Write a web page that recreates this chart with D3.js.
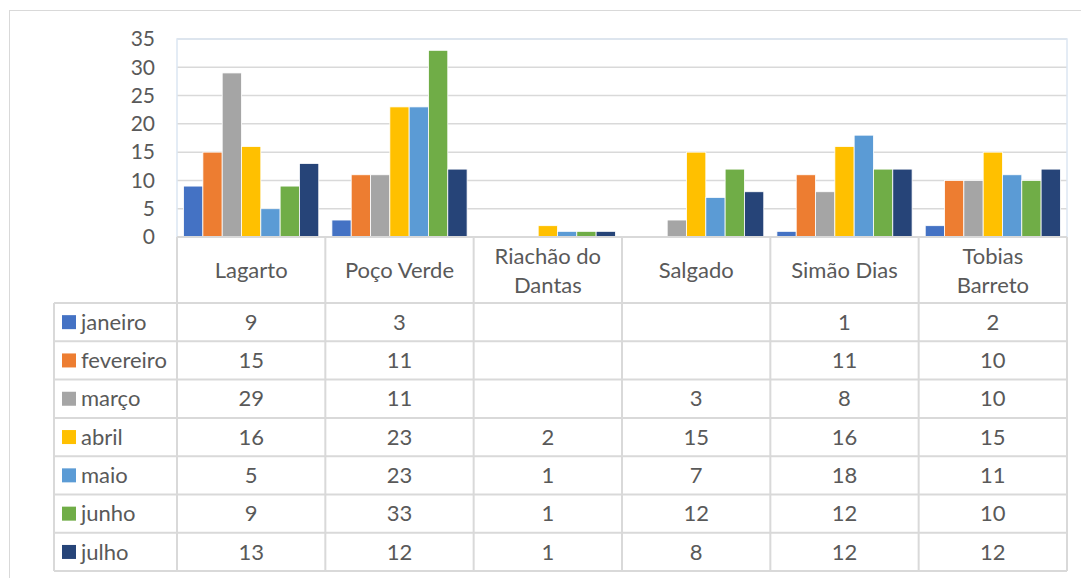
<!DOCTYPE html>
<html>
<head>
<meta charset="utf-8">
<script src="https://cdn.jsdelivr.net/npm/d3@7"></script>
<style>
  body { margin: 0; background: #fff; }
  text { font-family: Lato, "Open Sans", sans-serif; fill: #595959; }
</style>
</head>
<body>
<script>
    // municipios and monthly counts (blank cells in the table -> null)
    const categories = ['Lagarto', 'Poço Verde', 'Riachão do Dantas', 'Salgado', 'Simão Dias', 'Tobias Barreto']
    const catLines = [['Lagarto'], ['Poço Verde'], ['Riachão do', 'Dantas'], ['Salgado'], ['Simão Dias'], ['Tobias', 'Barreto']]
    const months = ['janeiro', 'fevereiro', 'março', 'abril', 'maio', 'junho', 'julho']
    const colors = ['#4472C4', '#ED7D31', '#A5A5A5', '#FFC000', '#5B9BD5', '#70AD47', '#264478']

    const janeiro = [9, 3, null, null, 1, 2]
    const fevereiro = [15, 11, null, null, 11, 10]
    const marco = [29, 11, null, 3, 8, 10]
    const abril = [16, 23, 2, 15, 16, 15]
    const maio = [5, 23, 1, 7, 18, 11]
    const junho = [9, 33, 1, 12, 12, 10]
    const julho = [13, 12, 1, 8, 12, 12]
    const series = [janeiro, fevereiro, marco, abril, maio, junho, julho]

    const yTicks = [0, 5, 10, 15, 20, 25, 30, 35]

    const W = 1081, H = 578
    const svg = d3.select('body').append('svg').attr('width', W).attr('height', H)

    const plot = { left: 177, right: 1067, top: 39, bottom: 237 }
    const legLeft = 54
    const headBottom = 303
    const rowH = 38.3

    const x = d3.scaleBand().domain(categories).range([plot.left, plot.right]).padding(0)
    const xm = d3.scaleBand().domain(months).range([0, x.bandwidth()]).paddingInner(0).paddingOuter(0.34)
    const y = d3.scaleLinear().domain([0, 35]).range([plot.bottom, plot.top])

    // outer frame
    svg.append('rect')
        .attr('x', 9.5).attr('y', 10.5).attr('width', 1100).attr('height', 600)
        .attr('fill', 'none').attr('stroke', '#d9d9d9')

    // gridlines
    svg.append('g').selectAll('line').data(yTicks.filter(d => d > 0))
        .enter().append('line')
        .attr('x1', plot.left).attr('x2', plot.right)
        .attr('y1', d => y(d)).attr('y2', d => y(d))
        .attr('stroke', '#d9d9d9').attr('stroke-width', 1.5)

    // plot border
    svg.append('rect')
        .attr('x', plot.left).attr('y', plot.top)
        .attr('width', plot.right - plot.left).attr('height', plot.bottom - plot.top)
        .attr('fill', 'none').attr('stroke', '#dce6f2').attr('stroke-width', 1.5)

    // bars
    const groups = svg.append('g').selectAll('g').data(months)
        .enter().append('g')
        .attr('fill', (d, i) => colors[i])

    groups.selectAll('rect')
        .data((m, i) => series[i].map((v, j) => ({ m: m, cat: categories[j], v: v })).filter(d => d.v != null))
        .enter().append('rect')
        .attr('x', d => x(d.cat) + xm(d.m))
        .attr('width', xm.bandwidth())
        .attr('y', d => y(d.v))
        .attr('height', d => y(0) - y(d.v))
        .attr('stroke', '#fff').attr('stroke-width', 0.8)

    // y axis
    const yAxis = svg.append('g')
        .attr('transform', `translate(${plot.left},0)`)
        .call(d3.axisLeft(y).tickValues(yTicks).tickSize(0).tickPadding(22))
    yAxis.select('.domain').remove()
    yAxis.selectAll('text').style('font-size', '21px').style('font-family', 'Lato').attr('fill', '#595959')

    // data table lines
    const tbl = svg.append('g').attr('stroke', '#d9d9d9').attr('stroke-width', 2)
    const tableBottom = headBottom + rowH * months.length
    tbl.append('line').attr('x1', plot.left).attr('x2', plot.right).attr('y1', plot.bottom).attr('y2', plot.bottom)
    d3.range(months.length + 1).forEach(i => {
        tbl.append('line').attr('x1', legLeft).attr('x2', plot.right)
            .attr('y1', headBottom + rowH * i).attr('y2', headBottom + rowH * i)
    })
    categories.concat(['end']).forEach((c, i) => {
        const xx = i < categories.length ? x(c) : plot.right
        tbl.append('line').attr('x1', xx).attr('x2', xx).attr('y1', plot.bottom).attr('y2', tableBottom)
    })
    tbl.append('line').attr('x1', legLeft).attr('x2', legLeft).attr('y1', headBottom).attr('y2', tableBottom)

    // category header labels
    const head = svg.append('g').selectAll('text').data(catLines)
        .enter().append('text')
        .attr('text-anchor', 'middle')
        .style('font-size', '22px')
        .attr('x', (d, i) => x(categories[i]) + x.bandwidth() / 2)
        .attr('y', d => d.length === 1 ? 270 : 256)
    head.selectAll('tspan').data(d => d).enter().append('tspan')
        .attr('x', function () { return d3.select(this.parentNode).attr('x') })
        .attr('dy', (d, i) => i === 0 ? '0.35em' : 29)
        .text(d => d)

    // table rows
    const rows = svg.append('g').selectAll('g').data(months)
        .enter().append('g')
        .attr('transform', (d, i) => `translate(0,${headBottom + rowH * (i + 0.5)})`)

    rows.append('rect')
        .attr('x', 62).attr('y', -7).attr('width', 14).attr('height', 14)
        .attr('fill', (d, i) => colors[i])
    rows.append('text')
        .attr('x', 81).attr('dy', '0.35em')
        .style('font-size', '22px')
        .text(d => d)

    rows.selectAll('.val')
        .data((m, i) => series[i].map((v, j) => ({ cat: categories[j], v: v })))
        .enter().append('text')
        .attr('class', 'val')
        .attr('text-anchor', 'middle')
        .attr('x', d => x(d.cat) + x.bandwidth() / 2)
        .attr('dy', '0.35em')
        .style('font-size', '22px')
        .text(d => d.v == null ? '' : d.v)
</script>
</body>
</html>
